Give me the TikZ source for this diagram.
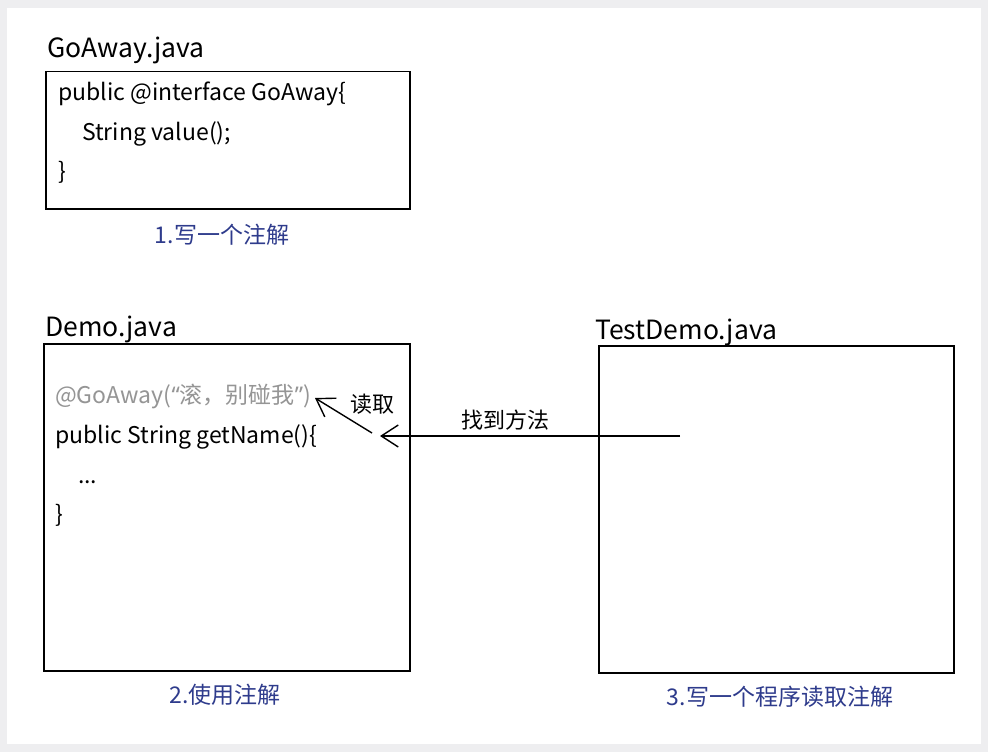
\documentclass[tikz,border=0pt]{standalone}
\usepackage{fontspec}
\setmainfont{Noto Sans CJK SC}
\newfontfamily\latino{Noto Sans}
\usetikzlibrary{positioning}
\usetikzlibrary{arrows.meta}

\definecolor{sfondo}{HTML}{EEEEF0}
\definecolor{blu}{HTML}{2E3B8C}
\definecolor{grigio}{HTML}{959595}

\begin{document}
\begin{tikzpicture}[x=1pt,y=-1pt,inner sep=0pt,
file/.style={anchor=base west,font=\fontsize{26.5}{30}\selectfont},
codice/.style={anchor=base west,font=\fontsize{23}{26}\selectfont},
nota/.style={codice,text=grigio},
etichetta/.style={anchor=center,text=blu,font=\fontsize{23}{26}\selectfont},
testo/.style={anchor=center,font=\fontsize{22}{26}\selectfont},
riquadro/.style={draw,line width=1.5pt,anchor=north west},
freccia/.style={line width=1.4pt,-{Straight Barb[length=17pt,width=22pt,line width=1.4pt]}}
]
\useasboundingbox (0,0) rectangle (988,752);
\fill[sfondo] (0,0) rectangle (988,752);
\fill[white] (7,8) rectangle (981,744);
%--
\node[riquadro,minimum width=364,minimum height=137](ga) at (45,71){};
\node[file](tga) at (47,58){GoAway.java};
\node[codice](a1) at (58,100){public @interface GoAway\{};
\node[codice](a2) at (82,140){String value();};
\node[codice](a3) at (58,179){\}};
\node[etichetta](la) at (222,235){1.写一个注解};
%--
\node[riquadro,minimum width=366,minimum height=327](de) at (43,343){};
\node[file](tde) at (45,336){Demo.java};
\node[nota](b1) at (55,403){@GoAway({\latino“}滚，别碰我{\latino”})};
\node[codice](b2) at (55,443){public String getName()\{};
\node[codice](b3) at (78,483){...};
\node[codice](b4) at (55,522){\}};
\node[etichetta](lb) at (225,695){2.使用注解};
%--
\node[riquadro,minimum width=355,minimum height=327](td) at (598,345){};
\node[file](ttd) at (595,339){TestDemo.java};
\node[etichetta](lc) at (780,697){3.写一个程序读取注解};
%--
\coordinate (p) at (680,436);
\coordinate (q) at (380,436);
\draw[freccia] (p) -- (q);
\node[testo](fm) at (505,420){找到方法};
%--
\coordinate (r) at (372,433);
\coordinate (s) at (315,398);
\draw[freccia] (r) -- (s);
\node[testo](lt) at (372,404){读取};
\end{tikzpicture}
\end{document}
